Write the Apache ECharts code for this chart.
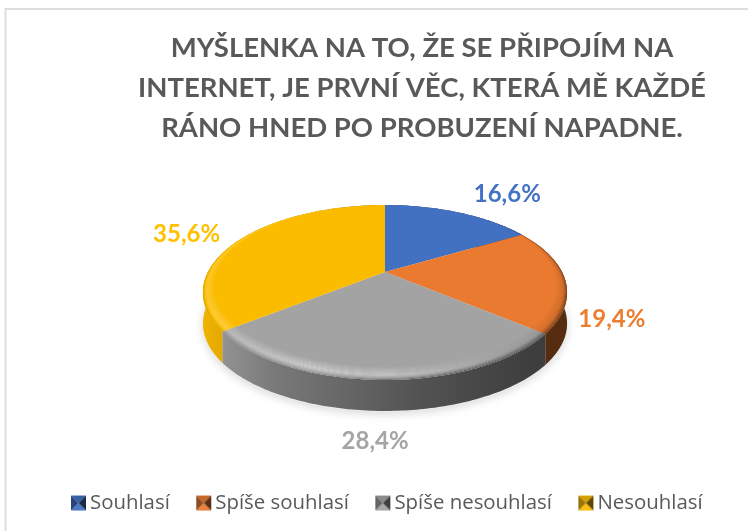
<!DOCTYPE html>
<html><head><meta charset="utf-8">
<style>html,body{margin:0;padding:0;background:#fff}#c{width:748px;height:531px}</style>
<script src="https://cdn.jsdelivr.net/npm/echarts@6/dist/echarts.min.js"></script>
</head><body><div id="c"></div>
<script>
const titleLines = ['MYŠLENKA NA TO, ŽE SE PŘIPOJÍM NA','INTERNET, JE PRVNÍ VĚC, KTERÁ MĚ KAŽDÉ','RÁNO HNED PO PROBUZENÍ NAPADNE.'];
const categories = ['Souhlasí','Spíše souhlasí','Spíše nesouhlasí','Nesouhlasí'];
const values = [16.6,19.4,28.4,35.6];
const colors = ['#4371c2','#e97a30','#a3a3a3','#fbbc00'];
const labelColors = ['#4472c4','#ed7d31','#a5a5a5','#ffc000'];

// Pie geometry (a tilted disc in perspective)
const P = {cx:385, cy:272, a:177, b:82.7, k:0.234, depth:31};
const labelShift = [[49,-18],[47,40],[-7,61],[-54,-5]];

function project(theta, r){
  const x = r*Math.sin(theta), y = -r*Math.cos(theta), w = 1 - P.k*y;
  return [P.cx + P.a*x/w, P.cy + P.b*y/w];
}
function shade(hex, f){
  const n = parseInt(hex.slice(1),16);
  const ch = [n>>16&255, n>>8&255, n&255].map(c=>Math.round(f>1? c+(255-c)*(f-1): c*f));
  return 'rgb('+ch.join(',')+')';
}
function arc(t0,t1,rf,dy){
  const pts=[], n=Math.max(6,Math.ceil((t1-t0)*60));
  for(let i=0;i<=n;i++){
    const t=t0+(t1-t0)*i/n, r=typeof rf==='function'?rf(t):rf, p=project(t,r);
    pts.push([p[0],p[1]+(dy||0)]);
  }
  return pts;
}
function hGrad(stops){
  return {type:'linear',x:202,y:0,x2:568,y2:0,global:true,colorStops:stops};
}
const total = values.reduce((a,b)=>a+b,0);
const bevelX = [0,.3,.6,.85,1];
const bevelPeak = [1.22,1.5,1.28,.95,.86];
const bevelRim = [.82,.85,.62,.5,.45];
function bevelFactor(u,i){
  return u<.35 ? bevelRim[i]+(bevelPeak[i]-bevelRim[i])*u/.35
               : bevelPeak[i]+(1-bevelPeak[i])*(u-.35)/.65;
}
const BANDS = 14;

function renderSlice(idx){
  return function(params, api){
    const v = api.value(0);
    let before = 0; for(let i=0;i<idx;i++) before += values[i];
    const t0 = before/total*2*Math.PI, t1 = (before+v)/total*2*Math.PI;
    const base = colors[idx], kids = [];
    const rim = arc(t0,t1,1,0);
    kids.push({type:'polygon',z2:1,shape:{points:rim.concat(arc(t0,t1,1,P.depth).reverse())},
      style:{fill:hGrad([{offset:0,color:shade(base,.96)},{offset:.2,color:shade(base,.74)},{offset:.6,color:shade(base,.5)},{offset:.9,color:shade(base,.38)},{offset:1,color:shade(base,.36)}])}});
    const apex = project(0,0);
    kids.push({type:'polygon',z2:4,shape:{points:[apex].concat(rim)},style:{fill:base}});
    for(let b=0;b<BANDS;b++){
      const u0=b/BANDS,u1=(b+1)/BANDS;
      const front=t=>(1-Math.cos(t))/2;
      const outer=arc(t0,t1,t=>1-u0*.1*front(t)), inner=arc(t0,t1,t=>1-u1*.1*front(t));
      const um=(u0+u1)/2;
      kids.push({type:'polygon',z2:5,shape:{points:outer.concat(inner.reverse())},
        style:{fill:hGrad(bevelX.map((o,i)=>({offset:o,color:shade(base,bevelFactor(um,i))})))}});
    }
    const mid = project((t0+t1)/2,1), sh = labelShift[idx];
    kids.push({type:'text',z2:8,style:{x:mid[0]+sh[0],y:mid[1]+sh[1],
      text:v.toFixed(1).replace('.',',')+'%',fill:labelColors[idx],
      font:'bold 24px Lato',textAlign:'center',textVerticalAlign:'middle'}});
    return {type:'group',children:kids};
  };
}
function renderShadow(){
  return {type:'polygon',z2:0,shape:{points:arc(0,2*Math.PI,1.0,P.depth+1)},
    style:{fill:'#ececec',shadowBlur:10,shadowColor:'rgba(0,0,0,.16)',shadowOffsetY:2}};
}
function iconPattern(base){
  const s=15, c=document.createElement('canvas'); c.width=s; c.height=s;
  const g=c.getContext('2d'), m=s/2;
  const tri=(pts,col)=>{g.fillStyle=col;g.beginPath();g.moveTo(pts[0],pts[1]);g.lineTo(pts[2],pts[3]);g.lineTo(pts[4],pts[5]);g.closePath();g.fill();};
  tri([0,0,s,0,m,m],shade(base,.85));
  tri([0,s,s,s,m,m],shade(base,1.05));
  tri([0,0,0,s,m,m],shade(base,.62));
  tri([s,0,s,s,m,m],shade(base,.38));
  return {image:c,repeat:'repeat'};
}
const series = [{type:'custom',name:'stin',coordinateSystem:'none',silent:true,data:[[0]],renderItem:renderShadow}]
 .concat(categories.map(function(name,i){
  return {type:'custom',name:name,coordinateSystem:'none',silent:true,data:[[values[i]]],
    itemStyle:{color:colors[i]},renderItem:renderSlice(i)};
 }));
const chart = echarts.init(document.getElementById('c'),null,{renderer:'canvas'});
chart.setOption({
  animation:false,backgroundColor:'#fff',
  title:{text:titleLines.join('\n'),left:417,top:23,textAlign:'center',
    textStyle:{fontFamily:'Lato',fontWeight:'bold',fontSize:27.5,lineHeight:40,color:'#595959'}},
  legend:{data:categories.map(function(n,i){return {name:n,icon:'rect',itemStyle:{color:iconPattern(colors[i])}};}),
    left:66,top:488,itemWidth:15,itemHeight:15,itemGap:26.5,
    textStyle:{fontFamily:'Open Sans',fontSize:20.4,color:'#595959',padding:[0,0,0,-1]}},
  graphic:[{type:'polyline',silent:true,shape:{points:[[748,9],[5.5,9],[5.5,531]]},style:{stroke:'#dedede',lineWidth:2,fill:null}}],
  series:series
});
</script></body></html>
